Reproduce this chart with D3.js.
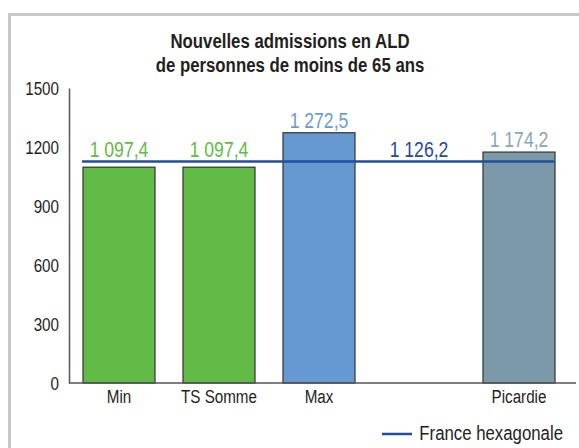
<html>
  <head>
    <script src="https://d3js.org/d3.v7.min.js"></script>
    <style>
      body { margin: 0; background: #fff; }
      text { font-family: "Liberation Sans", Arial, sans-serif; }
    </style>
  </head>
  <body>
    <div id="vis"></div>
  </body>
  <script>
    // data
    var categories = ["Min", "TS Somme", "Max", "", "Picardie"]
    var values = [1097.4, 1097.4, 1272.5, null, 1174.2]
    var labels = ["1 097,4", "1 097,4", "1 272,5", "", "1 174,2"]
    var franceValue = 1126.2
    var franceLabel = "1 126,2"
    var yTicks = [0, 300, 600, 900, 1200, 1500]

    var fills = ["#62bb46", "#62bb46", "#6699d1", "none", "#7b99a8"]
    var labelColors = ["#62bb46", "#62bb46", "#6b9bd2", "none", "#8aa5b3"]

    var width = 579, height = 448
    var squeeze = 0.8   // fake a condensed face

    var svg = d3.select("#vis")
      .append("svg")
      .attr("width", width)
      .attr("height", height)

    // frame
    svg.append("rect")
      .attr("x", 9.5).attr("y", 14.5)
      .attr("width", 600).attr("height", 500)
      .attr("fill", "none")
      .attr("stroke", "#c8c8c8")
      .attr("stroke-width", 3)

    // title
    svg.append("text")
      .attr("x", 290).attr("y", 48)
      .attr("text-anchor", "middle")
      .attr("font-size", 21).attr("font-weight", "bold")
      .attr("fill", "#231f20")
      .text("Nouvelles admissions en ALD")
    svg.append("text")
      .attr("x", 290).attr("y", 72)
      .attr("text-anchor", "middle")
      .attr("font-size", 21).attr("font-weight", "bold")
      .attr("fill", "#231f20")
      .text("de personnes de moins de 65 ans")

    var x = d3.scaleBand()
      .domain(d3.range(categories.length))
      .range([69, 569])
      .paddingInner(0.28)
      .paddingOuter(0.14)

    var y = d3.scaleLinear()
      .domain([0, 1500])
      .range([383, 88])

    // y axis
    var yAxis = svg.append("g")
      .attr("transform", "translate(69,0)")
      .call(d3.axisLeft(y).tickValues(yTicks).tickSize(0).tickPadding(10).tickFormat(d3.format("d")))
    yAxis.select(".domain").attr("stroke", "#555").attr("stroke-width", 1.5)
    yAxis.selectAll("text")
      .attr("font-size", 19).attr("fill", "#231f20")
      .attr("font-family", '"Liberation Sans", Arial, sans-serif')

    // bars
    var barData = values.map(function(v, i) { return {i: i, v: v} })
      .filter(function(d) { return d.v != null })

    svg.selectAll(".bar")
      .data(barData)
      .enter()
      .append("rect")
      .attr("class", "bar")
      .attr("x", function(d) { return x(d.i) })
      .attr("y", function(d) { return y(d.v) })
      .attr("width", x.bandwidth())
      .attr("height", function(d) { return y(0) - y(d.v) })
      .attr("fill", function(d) { return fills[d.i] })
      .attr("stroke", "#333")
      .attr("stroke-width", 1.2)

    // x axis
    var xAxis = svg.append("g")
      .attr("transform", "translate(0,383)")
      .call(d3.axisBottom(x).tickSize(0).tickPadding(7).tickFormat(function(i) { return categories[i] }))
    xAxis.select(".domain").attr("d", "M69,0H576").attr("stroke", "#555").attr("stroke-width", 1.5)
    xAxis.selectAll("text")
      .attr("font-size", 19).attr("fill", "#231f20")
      .attr("font-family", '"Liberation Sans", Arial, sans-serif')

    // France line
    svg.append("line")
      .attr("x1", x(0) - 1)
      .attr("x2", x(4) + x.bandwidth())
      .attr("y1", y(franceValue))
      .attr("y2", y(franceValue))
      .attr("stroke", "#1f4fa0")
      .attr("stroke-width", 2.5)

    // value labels
    barData.forEach(function(d) {
      svg.append("text")
        .attr("x", x(d.i) + x.bandwidth() / 2)
        .attr("y", Math.min(y(d.v), y(franceValue)) - 5)
        .attr("text-anchor", "middle")
        .attr("font-size", 22)
        .attr("fill", labelColors[d.i])
        .text(labels[d.i])
    })
    svg.append("text")
      .attr("x", x(3) + x.bandwidth() / 2)
      .attr("y", y(franceValue) - 5)
      .attr("text-anchor", "middle")
      .attr("font-size", 22)
      .attr("fill", "#1f4a9e")
      .text(franceLabel)

    // legend
    svg.append("line")
      .attr("x1", 382).attr("x2", 412)
      .attr("y1", 434).attr("y2", 434)
      .attr("stroke", "#1f4fa0").attr("stroke-width", 2.5)
    svg.append("text")
      .attr("x", 563).attr("y", 440)
      .attr("text-anchor", "end")
      .attr("font-size", 21).attr("fill", "#231f20")
      .text("France hexagonale")

    // squeeze every label horizontally around its anchor
    svg.selectAll("text").each(function() {
      var ax = +(this.getAttribute("x") || 0)
      var old = this.getAttribute("transform") || ""
      d3.select(this).attr("transform", old + " translate(" + ax + ",0) scale(" + squeeze + ",1) translate(" + (-ax) + ",0)")
    })
  </script>
</html>
